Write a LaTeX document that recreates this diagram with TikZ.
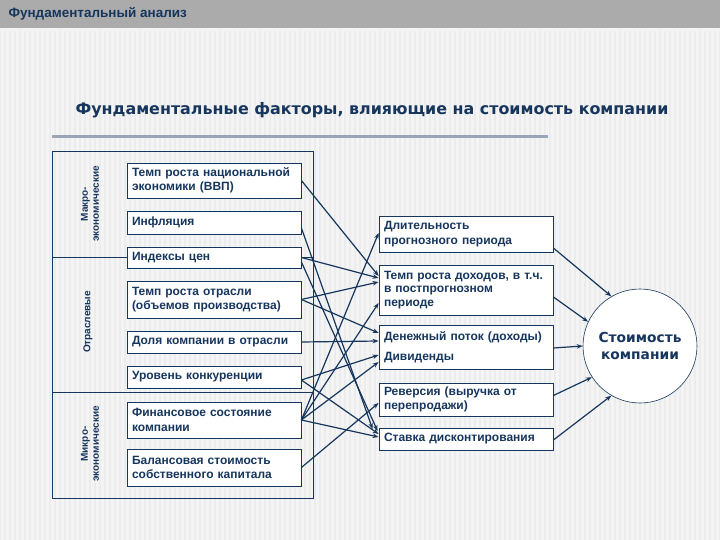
\documentclass[tikz,border=0pt]{standalone}
\usepackage{fontspec}
\setmainfont{Liberation Sans}
\newfontfamily\verd{DejaVu Sans}
\usetikzlibrary{arrows.meta}
\definecolor{navy}{HTML}{17365D}
\definecolor{bgc}{HTML}{F4F4F4}
\definecolor{stripe}{HTML}{ECECEC}
\definecolor{hdr}{HTML}{ABABAB}
\definecolor{rule}{HTML}{9AA6B6}
\tikzset{
  box/.style={draw=navy, line width=0.8pt, fill=white, minimum width=174pt, text width=164pt, align=left, inner xsep=5pt, inner ysep=0pt, font=\bfseries\fontsize{12}{14.5}\selectfont, text=navy},
  arr/.style={draw=navy, line width=1.2pt, -{Stealth[length=6pt,width=4.5pt]}},
  sect/.style={draw=navy, line width=0.8pt},
  vlab/.style={rotate=90, font=\bfseries\fontsize{10}{11}\selectfont, text=navy, align=center}
}
\begin{document}
\begin{tikzpicture}[x=1pt,y=-1pt]
\useasboundingbox (0,0) rectangle (720,540);
\fill[bgc] (0,0) rectangle (720,540);
\foreach \i in {0,5,...,720} {\draw[stripe, line width=1.5pt] (\i,30) -- (\i,540);}
\fill[hdr] (0,0) rectangle (720,28);
\fill[white!85!hdr] (0,28) rectangle (720,31);
\node[anchor=west, text=navy, font=\bfseries\fontsize{13.5}{15}\selectfont] (hd) at (5,14) {Фундаментальный анализ};
\node[text=navy, font=\verd\bfseries\fontsize{15.9}{18}\selectfont] (title) at (372,110) {Фундаментальные факторы, влияющие на стоимость компании};
\draw[rule, line width=3pt] (52,137) -- (548,137);
% sections
\draw[sect] (52,151) rectangle (313,498);
\draw[sect] (52,257) -- (313,257);
\draw[sect] (52,392) -- (313,392);
\node[vlab] (l1) at (90,204) {Макро-\\экономические};
\node[vlab] (l2) at (88,322) {Отраслевые};
\node[vlab] (l3) at (90,444) {Микро-\\экономические};
% left boxes
\node[box, minimum height=35pt] (vvp) at (214,180.5) {Темп роста национальной\\экономики (ВВП)};
\node[box, minimum height=23pt] (infl) at (214,222.5) {Инфляция};
\node[box, minimum height=21pt] (ind) at (214,257.5) {Индексы цен};
\node[box, minimum height=37pt] (tro) at (214,299.5) {Темп роста отрасли\\(объемов производства)};
\node[box, minimum height=22pt] (dol) at (214,342) {Доля компании в отрасли};
\node[box, minimum height=22pt] (kon) at (214,377) {Уровень конкуренции};
\node[box, minimum height=36pt] (fin) at (214,420) {Финансовое состояние\\компании};
\node[box, minimum height=37pt] (bal) at (214,467.5) {Балансовая стоимость\\собственного капитала};
% right boxes
\node[box, minimum height=36pt] (dl) at (466,234) {Длительность\\прогнозного периода};
\node[box, minimum height=50pt, font=\bfseries\fontsize{12}{13.5}\selectfont] (trd) at (466,290) {Темп роста доходов, в т.ч.\\в постпрогнозном\\периоде};
\node[box, minimum height=44pt, font=\bfseries\fontsize{12}{20}\selectfont] (dp) at (466,347) {Денежный поток (доходы)\\Дивиденды};
\node[box, minimum height=33pt] (rev) at (466,399.5) {Реверсия (выручка от\\перепродажи)};
\node[box, minimum height=22pt] (st) at (466,439) {Ставка дисконтирования};
% circle
\node[circle, draw=navy, line width=0.6pt, fill=white, minimum size=114pt, align=center, text=navy, font=\verd\bfseries\fontsize{13.8}{17.5}\selectfont] (cost) at (640,346) {Стоимость\\компании};
% arrows left -> right
\draw[arr] (vvp.east) -- ([yshift=14]trd.west);
\draw[arr] ([yshift=-5.5]infl.east) -- ([xshift=-6,yshift=10]st.west);
\draw[arr] (ind.east) -- ([yshift=12]trd.west);
\draw[arr] ([yshift=-4.5]ind.east) -- ([xshift=-1,yshift=8]st.west);
\draw[arr] (tro.east) -- ([yshift=8]trd.west);
\draw[arr] (tro.east) -- ([yshift=14]dp.west);
\draw[arr] (dol.east) -- ([yshift=6]dp.west);
\draw[arr] ([yshift=-3]kon.east) -- ([yshift=-8]dp.west);
\draw[arr] ([yshift=-3]kon.east) -- ([yshift=5]st.west);
\draw[arr] (fin.east) -- ([yshift=1]dl.west);
\draw[arr] (fin.east) -- ([yshift=-13]trd.west);
\draw[arr] (fin.east) -- ([yshift=-15]dp.west);
\draw[arr] (fin.east) -- ([yshift=2]st.west);
\draw[arr] (bal.east) -- ([yshift=-3.5]rev.west);
% arrows right -> circle
\draw[arr] ([yshift=-14]dl.east) -- (cost.120);
\draw[arr] ([yshift=-7]trd.east) -- (cost.155);
\draw[arr] ([yshift=-1]dp.east) -- (cost.180);
\draw[arr] ([yshift=4]rev.east) -- (cost.213);
\draw[arr] ([yshift=-1]st.east) -- (cost.240);
\end{tikzpicture}
\end{document}
